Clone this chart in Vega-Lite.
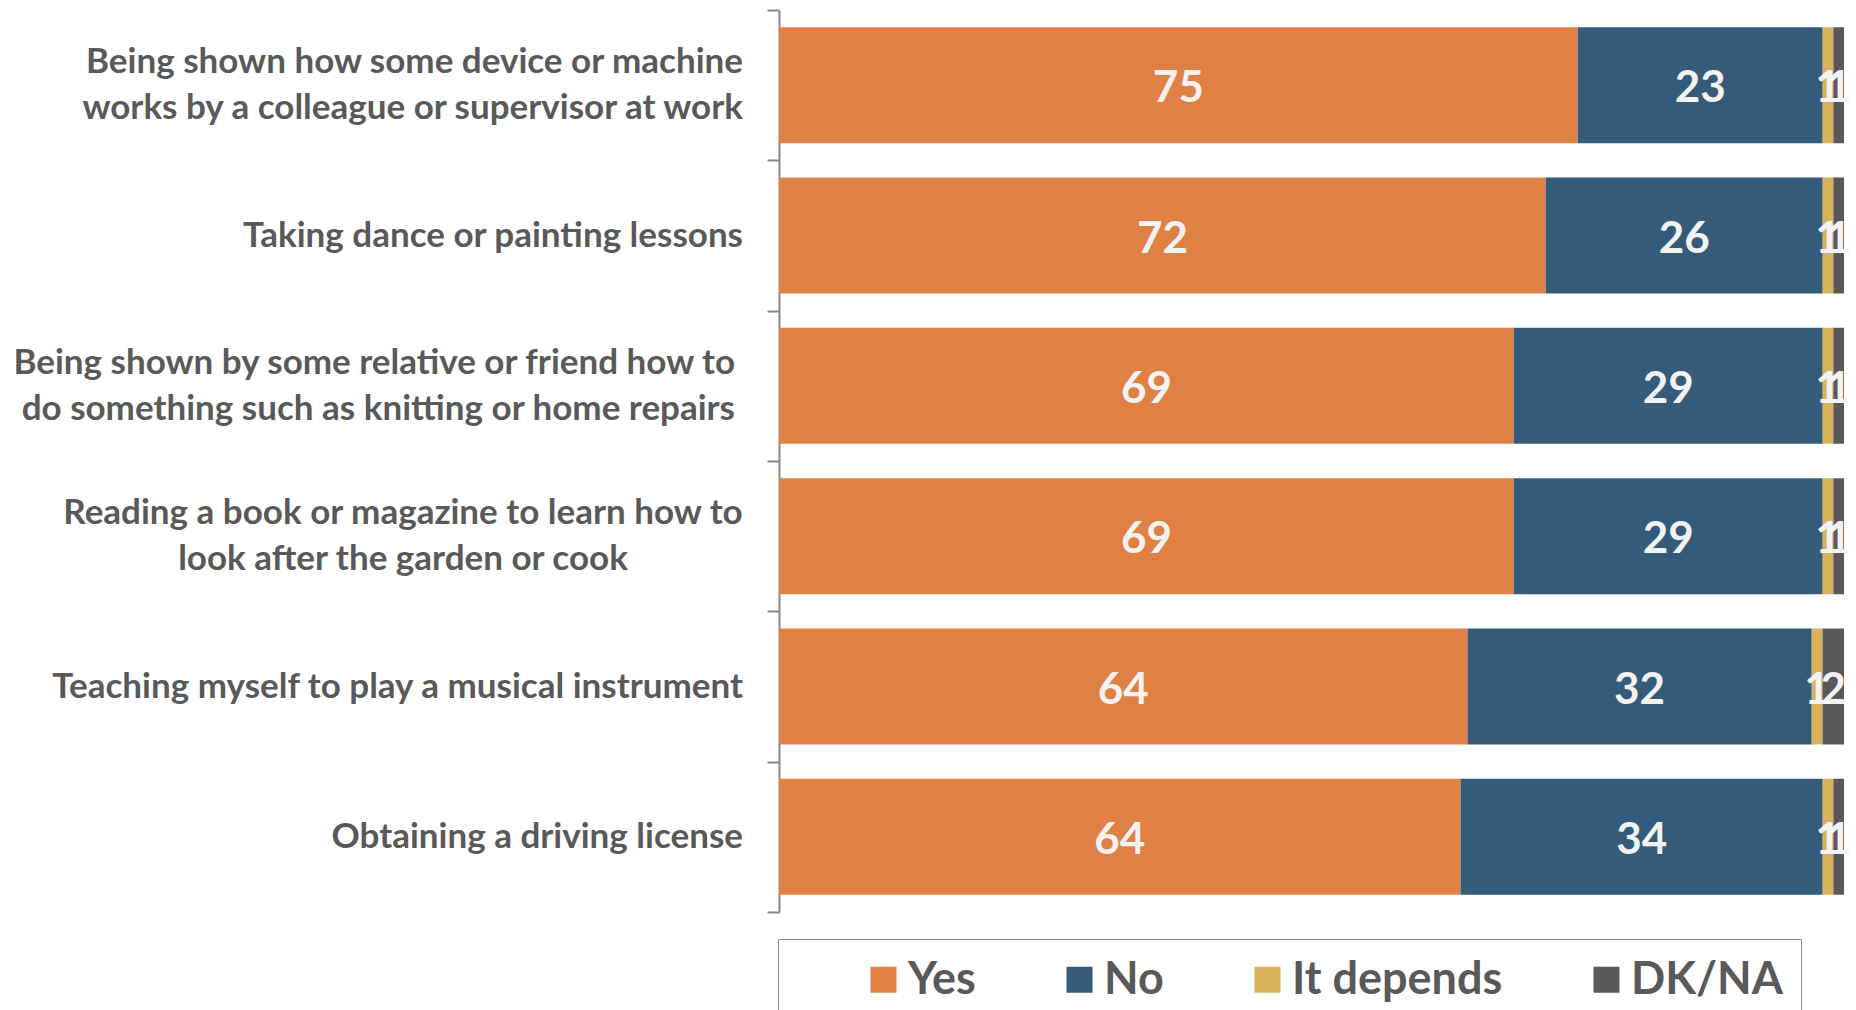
{
  "$schema": "https://vega.github.io/schema/vega-lite/v6.json",
  "autosize": "none",
  "width": 1065,
  "height": 902,
  "padding": {"left": 779, "top": 10, "right": 12, "bottom": 98},
  "background": "white",
  "config": {"view": {"stroke": null}, "font": "Lato"},
  "data": {
    "values": [
      {"q": "Being shown how some device or machine|works by a colleague or supervisor at work", "answer": "Yes", "v": 75, "k": 1},
      {"q": "Being shown how some device or machine|works by a colleague or supervisor at work", "answer": "No", "v": 23, "k": 2},
      {"q": "Being shown how some device or machine|works by a colleague or supervisor at work", "answer": "It depends", "v": 1, "k": 3},
      {"q": "Being shown how some device or machine|works by a colleague or supervisor at work", "answer": "DK/NA", "v": 1, "k": 4},
      {"q": "Taking dance or painting lessons", "answer": "Yes", "v": 72, "k": 1},
      {"q": "Taking dance or painting lessons", "answer": "No", "v": 26, "k": 2},
      {"q": "Taking dance or painting lessons", "answer": "It depends", "v": 1, "k": 3},
      {"q": "Taking dance or painting lessons", "answer": "DK/NA", "v": 1, "k": 4},
      {"q": "Being shown by some relative or friend how to|do something such as knitting or home repairs", "answer": "Yes", "v": 69, "k": 1},
      {"q": "Being shown by some relative or friend how to|do something such as knitting or home repairs", "answer": "No", "v": 29, "k": 2},
      {"q": "Being shown by some relative or friend how to|do something such as knitting or home repairs", "answer": "It depends", "v": 1, "k": 3},
      {"q": "Being shown by some relative or friend how to|do something such as knitting or home repairs", "answer": "DK/NA", "v": 1, "k": 4},
      {"q": "Reading a book or magazine to learn how to|look after the garden or cook", "answer": "Yes", "v": 69, "k": 1},
      {"q": "Reading a book or magazine to learn how to|look after the garden or cook", "answer": "No", "v": 29, "k": 2},
      {"q": "Reading a book or magazine to learn how to|look after the garden or cook", "answer": "It depends", "v": 1, "k": 3},
      {"q": "Reading a book or magazine to learn how to|look after the garden or cook", "answer": "DK/NA", "v": 1, "k": 4},
      {"q": "Teaching myself to play a musical instrument", "answer": "Yes", "v": 64, "k": 1},
      {"q": "Teaching myself to play a musical instrument", "answer": "No", "v": 32, "k": 2},
      {"q": "Teaching myself to play a musical instrument", "answer": "It depends", "v": 1, "k": 3},
      {"q": "Teaching myself to play a musical instrument", "answer": "DK/NA", "v": 2, "k": 4},
      {"q": "Obtaining a driving license", "answer": "Yes", "v": 64, "k": 1},
      {"q": "Obtaining a driving license", "answer": "No", "v": 34, "k": 2},
      {"q": "Obtaining a driving license", "answer": "It depends", "v": 1, "k": 3},
      {"q": "Obtaining a driving license", "answer": "DK/NA", "v": 1, "k": 4}
    ]
  },
  "transform": [
    {"stack": "v", "groupby": ["q"], "sort": [{"field": "k", "order": "ascending"}], "offset": "normalize", "as": ["v0", "v1"]},
    {"calculate": "(datum.v0 + datum.v1) / 2", "as": "vmid"}
  ],
  "encoding": {
    "y": {
      "field": "q",
      "type": "nominal",
      "sort": null,
      "title": null,
      "scale": {"paddingInner": 0, "paddingOuter": 0},
      "axis": {
        "domainColor": "#888888",
        "domainWidth": 2,
        "tickColor": "#888888",
        "tickWidth": 2,
        "tickSize": 12,
        "tickBand": "extent",
        "labels": false
      }
    }
  },
  "layer": [
    {
      "mark": {"type": "bar", "height": {"band": 0.772}},
      "encoding": {
        "x": {"field": "v0", "type": "quantitative", "axis": null, "scale": {"domain": [0, 1], "nice": false, "zero": false}},
        "x2": {"field": "v1"},
        "color": {
          "field": "answer",
          "type": "nominal",
          "title": " ",
          "scale": {"domain": ["Yes", "No", "It depends", "DK/NA"], "range": ["#DF8045", "#355B7B", "#D9B35B", "#595959"]},
          "legend": {
            "orient": "none",
            "direction": "horizontal",
            "legendX": -1,
            "legendY": 929,
            "title": " ",
            "titleOrient": "left",
            "titleFontSize": 10,
            "titlePadding": 65,
            "symbolType": "square",
            "symbolSize": 676,
            "symbolStrokeWidth": 0,
            "labelFont": "Lato",
            "labelFontWeight": "bold",
            "labelFontSize": 45,
            "labelColor": "#595959",
            "labelOffset": 2,
            "labelLimit": 500,
            "labelExpr": "datum.label == 'DK/NA' ? 'DK/NA    ' : datum.label",
            "columnPadding": 81,
            "strokeColor": "#888888",
            "padding": 18,
            "fillColor": "white"
          }
        }
      }
    },
    {
      "mark": {"type": "text", "font": "Lato", "fontWeight": "bold", "fontSize": 44, "color": "#F2F2F2", "baseline": "middle", "align": "center", "dy": 4},
      "encoding": {
        "x": {"field": "vmid", "type": "quantitative"},
        "text": {"field": "v", "type": "quantitative"}
      }
    },
    {
      "transform": [{"filter": "datum.k == 1 && indexof(datum.q, '|') < 0"}],
      "mark": {"type": "text", "font": "Lato", "fontWeight": "bold", "fontSize": 35, "color": "#595959", "baseline": "middle", "align": "right", "dx": -36},
      "encoding": {
        "x": {"datum": 0},
        "text": {"field": "q", "type": "nominal"}
      }
    },
    {
      "transform": [{"filter": "datum.k == 1 && indexof(datum.q, 'Being shown how') == 0"}],
      "mark": {"type": "text", "font": "Lato", "fontWeight": "bold", "fontSize": 35, "color": "#595959", "baseline": "middle", "align": "right", "dx": -36, "dy": -23, "lineBreak": "|", "lineHeight": 46},
      "encoding": {
        "x": {"datum": 0},
        "text": {"field": "q", "type": "nominal"}
      }
    },
    {
      "transform": [{"filter": "datum.k == 1 && indexof(datum.q, 'Being shown by') == 0"}],
      "mark": {"type": "text", "font": "Lato", "fontWeight": "bold", "fontSize": 35, "color": "#595959", "baseline": "middle", "align": "right", "dx": -44, "dy": -23, "lineBreak": "|", "lineHeight": 46},
      "encoding": {
        "x": {"datum": 0},
        "text": {"field": "q", "type": "nominal"}
      }
    },
    {
      "transform": [{"filter": "datum.k == 1 && indexof(datum.q, 'Reading') == 0"}],
      "mark": {"type": "text", "font": "Lato", "fontWeight": "bold", "fontSize": 35, "color": "#595959", "baseline": "middle", "align": "center", "dx": -376, "dy": -23, "lineBreak": "|", "lineHeight": 46},
      "encoding": {
        "x": {"datum": 0},
        "text": {"field": "q", "type": "nominal"}
      }
    }
  ]
}
